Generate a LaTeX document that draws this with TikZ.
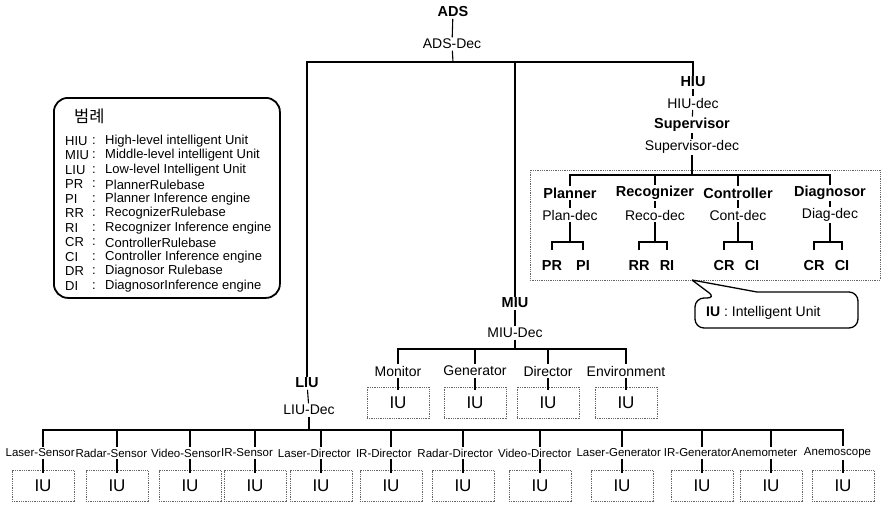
\documentclass[tikz,border=0pt]{standalone}
\usepackage{fontspec}
\setmainfont{Liberation Sans}
\newfontfamily\krfont{Noto Sans CJK KR}
\begin{document}
\begin{tikzpicture}[x=1pt,y=-1pt,
  wire/.style={line width=1.5pt,line cap=rect},
  tk/.style={line width=1.1pt},
  rt/.style={inner sep=1.5pt,font=\fontsize{14}{16}\selectfont},
  bt/.style={inner sep=1.5pt,font=\fontsize{14.5}{16}\selectfont\bfseries},
  st/.style={inner sep=1.5pt,font=\fontsize{11.5}{13}\selectfont},
  lg/.style={inner sep=0pt,anchor=west,font=\fontsize{13}{14}\selectfont},
  dotbox/.style={draw=black!60,line width=0.8pt,dash pattern=on 0.9pt off 0.9pt},
  iu/.style={dotbox,minimum width=62pt,minimum height=31pt,inner sep=0pt,font=\fontsize{17}{18}\selectfont}]
\useasboundingbox (0,0) rectangle (887,504);

% ---------- legend ----------
\node[draw,line width=1.8pt,rounded corners=14pt,minimum width=226pt,minimum height=200pt,anchor=north west,inner sep=0pt] (legend) at (53,97) {};
\node[inner sep=0pt,anchor=west,font=\krfont\fontsize{16.5}{18}\selectfont] (lgt) at (74,116) {범례};
\foreach \a/\d [count=\i from 0] in {HIU/High-level intelligent Unit,MIU/Middle-level intelligent Unit,LIU/Low-level Intelligent Unit,PR/PlannerRulebase,PI/Planner Inference engine,RR/RecognizerRulebase,RI/Recognizer Inference engine,CR/ControllerRulebase,CI/Controller Inference engine,DR/Diagnosor Rulebase,DI/DiagnosorInference engine}{
  \node[lg] (la\i) at (65,141+14.5*\i) {\a};
  \node[lg] (lc\i) at (92,141+14.5*\i) {:};
  \node[lg] (ld\i) at (105,141+14.5*\i) {\d};
}

% ---------- top ----------
\node[bt] (ads) at (453,12) {ADS};
\node[rt] (adsdec) at (452,44) {ADS-Dec};
\coordinate (topbar) at (453,62);
\draw[tk] (ads) -- (adsdec);
\draw[tk] (adsdec) -- (topbar);

% ---------- HIU branch ----------
\node[bt] (hiu) at (693,82) {HIU};
\node[rt] (hiudec) at (693,103) {HIU-dec};
\node[bt] (sup) at (692,125) {Supervisor};
\node[rt] (supdec) at (692,147) {Supervisor-dec};
\draw[tk] (hiu) -- (hiudec);
\draw[tk] (hiudec) -- (sup);
\draw[tk] (sup) -- (supdec);

\draw[dotbox] (530,170) rectangle (880,280);
\coordinate (supbar) at (692,175);
\draw[tk] (supdec) -- (supbar);

\foreach \n/\x/\t/\dn/\dt/\ra/\rb/\xa/\xb in {pl/570/Planner/pld/Plan-dec/PR/PI/552/583,
   rc/655/Recognizer/rcd/Reco-dec/RR/RI/639/667,
   ct/738/Controller/ctd/Cont-dec/CR/CI/724/752,
   dg/830/Diagnosor/dgd/Diag-dec/CR/CI/814/842}{
  \node[bt] (\n) at (\x,193) {\t};
  \node[rt] (\dn) at (\x,215) {\dt};
  \node[bt] (\n a) at (\xa,266) {\ra};
  \node[bt] (\n b) at (\xb,266) {\rb};
  \coordinate (\n k) at (\x,242);
  \draw[tk] (\n |- supbar) -- (\n.north);
  \draw[tk] (\n) -- (\dn);
  \draw[tk] (\dn) -- (\n k);
  \draw[tk] ([yshift=-8pt]\n a.north |- \n k) -- (\n a |- \n k) -- (\n b |- \n k) -- ([yshift=-8pt]\n b.north |- \n k);
}
\draw[wire] (pl |- supbar) -- (dg |- supbar);

% callout
\coordinate (tip) at (692,280);
\draw[line width=1.3pt] (tip) -- (757,292) [rounded corners=9pt] -- (858,292) -- (858,328) -- (695,328) -- (695,298) -- (716,298) [sharp corners] -- (tip);
\node[inner sep=0pt,anchor=west,font=\fontsize{14}{16}\selectfont] (cl) at (706,313) {\textbf{IU} : Intelligent Unit};

% ---------- MIU branch ----------
\node[bt] (miu) at (515,303) {MIU};
\node[rt] (miudec) at (515,333) {MIU-Dec};
\draw[tk] (miu) -- (miudec);
\coordinate (miubar) at (515,349);
\draw[tk] (miudec) -- (miubar);
\foreach \n/\x/\t in {mo/398/Monitor,ge/475/Generator,di/548/Director,en/626/Environment}{
  \node[rt] (\n) at (\x,371) {\t};
  \node[iu] (\n u) at (\x,402.5) {IU};
  \draw[tk] (\n |- miubar) -- (\n.north);
  \draw[tk] (\n.south) -- ([yshift=-3pt]\n u.north);
}
\draw[wire] (mo |- miubar) -- (en |- miubar);

% ---------- LIU branch ----------
\node[bt] (liu) at (307,383) {LIU};
\node[rt] (liudec) at (309,410) {LIU-Dec};
\draw[tk] (liu) -- (liudec);
\coordinate (botbar) at (309,430);
\draw[tk] (liudec) -- (botbar);
\foreach \n/\lx/\bx/\t in {b1/40.2/43/Laser-Sensor,b2/111.3/117/Radar-Sensor,b3/185.9/190/Video-Sensor,b4/247/255/IR-Sensor,b5/314.4/321/Laser-Director,b6/383.8/391/IR-Director,b7/455.2/463/Radar-Director,b8/534.7/540/Video-Director,b9/618.7/622/Laser-Generator,b10/697.5/702/IR-Generator,b11/764.4/771/Anemometer,b12/837.5/843/Anemoscope}{
  \node[st] (\n l) at (\lx,453) {\t};
  \node[iu] (\n) at (\bx,486) {IU};
  \draw[tk] (\n |- botbar) -- (\n |- \n l.north);
  \draw[tk] (\n |- \n l.south) -- ([yshift=-3pt]\n.north);
}
\draw[wire] (b1 |- botbar) -- (b12 |- botbar);

% ---------- main bar ----------
\draw[wire] (liu.north) -- (liu.north |- topbar) -- (hiu.north |- topbar) -- (hiu.north);
\draw[wire] (miu.north) -- (miu.north |- topbar);
\end{tikzpicture}
\end{document}
